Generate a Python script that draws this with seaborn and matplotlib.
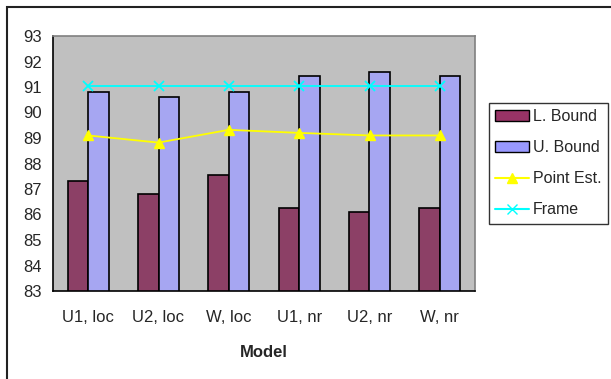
import matplotlib

matplotlib.use("Agg")
import matplotlib.pyplot as plt
import pandas as pd
import seaborn as sns
from matplotlib.lines import Line2D
from matplotlib.patches import Patch, Rectangle


models = ["U1, loc", "U2, loc", "W, loc", "U1, nr", "U2, nr", "W, nr"]
lower_bound = [87.3, 86.8, 87.55, 86.25, 86.1, 86.25]
upper_bound = [90.8, 90.6, 90.8, 91.45, 91.58, 91.45]
point_est = [89.1, 88.82, 89.32, 89.2, 89.1, 89.1]
frame = [91.05, 91.05, 91.05, 91.05, 91.05, 91.05]
y_ticks = list(range(83, 94))

BAR_COLORS = {"L. Bound": "#993366", "U. Bound": "#9999FF"}


def main() -> None:
    sns.set_style("white")
    plt.rcParams["font.family"] = ["Liberation Sans", "DejaVu Sans"]

    bars = pd.DataFrame({"Model": models, "L. Bound": lower_bound, "U. Bound": upper_bound})
    bars = bars.melt(id_vars="Model", var_name="series", value_name="value")

    fig = plt.figure(figsize=(6.11, 3.79), dpi=100)
    ax = fig.add_axes([53 / 611, 88 / 379, 422 / 611, 255 / 379])
    ax.set_facecolor("#C0C0C0")

    sns.barplot(
        data=bars,
        x="Model",
        y="value",
        hue="series",
        palette=BAR_COLORS,
        width=0.58,
        gap=0,
        edgecolor="black",
        linewidth=1.2,
        legend=False,
        ax=ax,
        bottom=0,
    )
    ax.plot(range(len(models)), point_est, color="#FFFF00", marker="^", markersize=7,
            linewidth=1.3, zorder=4)
    ax.plot(range(len(models)), frame, color="#00FFFF", marker="x", markersize=7,
            markeredgewidth=1.3, linewidth=1.3, zorder=4)

    ax.set_ylim(83, 93)
    ax.set_xlim(-0.5, len(models) - 0.5)
    ax.set_yticks(y_ticks)
    ax.set_yticklabels([str(t) for t in y_ticks], fontsize=12)
    ax.set_xticks(range(len(models)))
    ax.set_xticklabels(models, fontsize=12)
    ax.set_xticks([i - 0.5 for i in range(len(models) + 1)], minor=True)
    ax.tick_params(axis="x", which="major", length=0, pad=14)
    ax.tick_params(axis="x", which="minor", length=12, width=1, direction="inout", color="black")
    ax.tick_params(axis="y", which="major", length=5, width=1, direction="out", color="black", pad=3)
    ax.set_ylabel("")
    ax.set_xlabel("Model", fontsize=12, fontweight="bold", labelpad=14)

    for side in ["top", "right"]:
        ax.spines[side].set_color("#808080")
        ax.spines[side].set_linewidth(1.2)
    for side in ["left", "bottom"]:
        ax.spines[side].set_color("black")
        ax.spines[side].set_linewidth(1.2)

    handles = [
        Patch(facecolor=BAR_COLORS["L. Bound"], edgecolor="black", label="L. Bound"),
        Patch(facecolor=BAR_COLORS["U. Bound"], edgecolor="black", label="U. Bound"),
        Line2D([], [], color="#FFFF00", marker="^", markersize=7, label="Point Est."),
        Line2D([], [], color="#00FFFF", marker="x", markersize=7, label="Frame"),
    ]
    leg = fig.legend(
        handles=handles,
        loc="upper left",
        bbox_to_anchor=(489 / 611, 1 - 103 / 379),
        fontsize=11.5,
        frameon=True,
        fancybox=False,
        handlelength=2.1,
        handleheight=0.7,
        labelspacing=1.0,
        handletextpad=0.25,
        borderpad=0.4,
        borderaxespad=0,
    )
    leg.get_frame().set_edgecolor("black")
    leg.get_frame().set_linewidth(1)

    fig.patches.append(Rectangle((7 / 611, -0.1), 1.2, 1.1 - 7 / 379, transform=fig.transFigure,
                                 fill=False, edgecolor="#222222", linewidth=1.5))

    fig.savefig("out.png", dpi=100)
    plt.close(fig)


if __name__ == "__main__":
    main()
